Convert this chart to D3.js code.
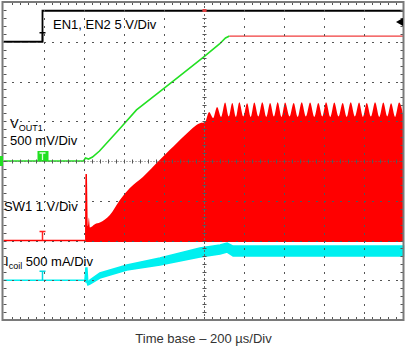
<!DOCTYPE html>
<html>
<head>
<meta charset="utf-8">
<script src="https://cdn.jsdelivr.net/npm/d3@7"></script>
<style>
  body { margin: 0; background: #fff; }
  svg { display: block; font-family: "Liberation Sans", Arial, sans-serif; }
</style>
</head>
<body>
<svg id="scope"></svg>
<script>
// Time axis in µs (200 µs/div, trigger at 0), vertical in screen divisions
const timeDomain = [-1000, 1000]
const divDomain = [-4, 4]

// EN1, EN2 - 5 V/div, ground 3 div above centre
const enPerDiv = 5, enOffset = 3
const enTime = [-1000, -805, -805, 1000]
const enVolt = [0, 0, 3.9, 3.9]

// VOUT1 - 500 mV/div, ground on centre line
const voutPerDiv = 0.5, voutOffset = 0
const voutTime = [-1000, -600, -590, -575, -555, -520, -470, -420, -335, -220, -120, 0, 80, 110, 130, 1000]
const voutVolt = [0, 0, 0.038, 0.025, 0.05, 0.126, 0.264, 0.403, 0.642, 0.868, 1.069, 1.308, 1.472, 1.547, 1.572, 1.572]
const voutSettled = 130

// SW1 - 1 V/div, ground 2 div below centre; upper envelope of the switching node
const swPerDiv = 1, swOffset = -2
const swTime = [-1000, -592, -590, -583, -578, -573, -568, -543, -518, -468, -418, -368, -303, -218, -168, -93, -18,
  8, 28, 48, 68, 88, 108, 126, 144, 162, 179, 199, 218, 236, 254, 274, 294, 314, 333, 352, 371, 390, 408, 430,
  451, 471, 491, 512, 533, 554, 574, 594, 613, 634, 654, 675, 696, 716, 736, 757, 778, 797, 816, 837, 858, 879,
  899, 919, 938, 958, 978, 1000]
const swVolt = [0, 0, 1.67, 1.67, 0.36, 0.58, 0.33, 0.41, 0.45, 0.64, 1.02, 1.32, 1.6, 2.03, 2.28, 2.65, 2.95,
  2.98, 3.23, 3.08, 3.36, 3.11, 3.47, 3.12, 3.46, 3.11, 3.48, 3.12, 3.45, 3.11, 3.47, 3.12, 3.48, 3.11, 3.46, 3.12,
  3.48, 3.11, 3.47, 3.12, 3.46, 3.11, 3.48, 3.12, 3.47, 3.11, 3.46, 3.12, 3.48, 3.11, 3.47, 3.12, 3.46, 3.11,
  3.48, 3.12, 3.47, 3.11, 3.46, 3.12, 3.48, 3.11, 3.47, 3.12, 3.45, 3.11, 3.47, 3.12]
const swFloor = -0.04
const swStart = -592

// Icoil - 500 mA/div, ground 3 div below centre; ripple band in mA
const ilPerDiv = 500, ilOffset = -3
const ilTime = [-1000, -593, -588, -583, -578, -568, -518, -383, -218, -18, 83, 118, 148, 1000]
const ilTop = [0, 0, 154, 154, -35, 3, 91, 192, 279, 405, 443, 468, 430, 430]
const ilBottom = [0, 0, -22, -22, -60, -47, 28, 129, 191, 292, 330, 355, 304, 304]

const W = 409, H = 352
const svg = d3.select("#scope").attr("width", W).attr("height", H)
svg.append("rect").attr("width", W).attr("height", H).attr("fill", "#fff")

let x = d3.scaleLinear().domain(timeDomain).range([3.5, 403.5])
let yDiv = d3.scaleLinear().domain(divDomain).range([320, 2])
let plotLeft = x.range()[0], plotRight = x.range()[1]
let plotTop = yDiv.range()[1], plotBottom = yDiv.range()[0]
let stepX = (plotRight - plotLeft) / 50, stepY = (plotBottom - plotTop) / 40   // 1/5 division

// channel value -> pixel
function yOf(perDiv, offset) {
    return v => yDiv(offset + v / perDiv)
}
let yEn = yOf(enPerDiv, enOffset)
let yVout = yOf(voutPerDiv, voutOffset)
let ySw = yOf(swPerDiv, swOffset)
let yIl = yOf(ilPerDiv, ilOffset)

let traces = svg.append("g")

// SW1 switching envelope (filled) plus its baseline
let swIdx = d3.range(swTime.length)
traces.append("path")
    .datum(swIdx.filter(i => swTime[i] >= swStart))
    .attr("fill", "#ff0000")
    .attr("d", d3.area()
        .x(i => x(swTime[i]))
        .y0(ySw(swFloor))
        .y1(i => ySw(swVolt[i]))
        .curve(d3.curveMonotoneX))
traces.append("path")
    .datum(swIdx.filter(i => swTime[i] <= swStart))
    .attr("fill", "none")
    .attr("stroke", "#ff0000")
    .attr("stroke-width", 1.5)
    .attr("d", d3.line().x(i => x(swTime[i])).y(i => ySw(swVolt[i])))

// Icoil ripple band
let ilIdx = d3.range(ilTime.length)
traces.append("path")
    .datum(ilIdx)
    .attr("fill", "#00f0f0")
    .attr("stroke", "#00f0f0")
    .attr("stroke-width", 1.5)
    .attr("d", d3.area()
        .x(i => x(ilTime[i]))
        .y0(i => yIl(ilBottom[i]))
        .y1(i => yIl(ilTop[i])))

// VOUT1 ramp, the settled part shows in red
let voutIdx = d3.range(voutTime.length)
let voutLine = d3.line().x(i => x(voutTime[i])).y(i => yVout(voutVolt[i]))
traces.append("path")
    .datum(voutIdx.filter(i => voutTime[i] <= voutSettled))
    .attr("fill", "none")
    .attr("stroke", "#22e022")
    .attr("stroke-width", 1.6)
    .attr("d", voutLine)
traces.append("path")
    .datum(voutIdx.filter(i => voutTime[i] >= voutSettled))
    .attr("fill", "none")
    .attr("stroke", "#f03c3c")
    .attr("stroke-width", 1.3)
    .attr("d", voutLine)

// EN1, EN2 step
let enIdx = d3.range(enTime.length)
traces.append("path")
    .datum(enIdx)
    .attr("fill", "none")
    .attr("stroke", "#000")
    .attr("stroke-width", 1.8)
    .attr("d", d3.line().x(i => x(enTime[i])).y(i => yEn(enVolt[i])))

// Graticule: dots every 1/5 division along each grid line
let gridX = x.ticks(10).filter(t => t != 0 && t != timeDomain[0] && t != timeDomain[1]).map(t => Math.round(x(t)))
let gridY = yDiv.ticks(8).filter(d => d != 0 && d != divDomain[0] && d != divDomain[1]).map(d => Math.round(yDiv(d)))
let alongX = d3.range(plotLeft + stepX, plotRight - 1, stepX).map(Math.round)
let alongY = d3.range(plotTop + stepY, plotBottom - 1, stepY).map(Math.round)
let dots = []
gridX.forEach(gx => alongY.forEach(py => dots.push([gx, py, 1, 2])))
gridY.forEach(gy => alongX.forEach(px => dots.push([px, gy, 2, 1])))
svg.append("g").selectAll("rect").data(dots).join("rect")
    .attr("x", d => d[0]).attr("y", d => d[1])
    .attr("width", d => d[2]).attr("height", d => d[3])
    .attr("fill", "#555")

// dashed centre lines with minor ticks
let cx = Math.round(x(0)) + 0.5, cy = Math.round(yDiv(0)) + 0.5
let centre = svg.append("g").attr("stroke", "#666").attr("stroke-width", 1)
centre.append("line").attr("x1", cx).attr("x2", cx).attr("y1", plotTop).attr("y2", plotBottom)
    .attr("stroke-dasharray", "2,2")
centre.append("line").attr("y1", cy).attr("y2", cy).attr("x1", plotLeft).attr("x2", plotRight)
    .attr("stroke-dasharray", "1,2")

// minor ticks every 1/5 division on centre lines and border
let ticks = svg.append("g").attr("stroke", "#555").attr("stroke-width", 1)
alongX.forEach(px => {
    let xx = px + 0.5
    ticks.append("line").attr("x1", xx).attr("x2", xx).attr("y1", cy - 2).attr("y2", cy + 2)
    ticks.append("line").attr("x1", xx).attr("x2", xx).attr("y1", plotTop).attr("y2", plotTop + 3)
    ticks.append("line").attr("x1", xx).attr("x2", xx).attr("y1", plotBottom - 3).attr("y2", plotBottom)
})
alongY.forEach(py => {
    let yy = py + 0.5
    ticks.append("line").attr("y1", yy).attr("y2", yy).attr("x1", cx - 2).attr("x2", cx + 2)
    ticks.append("line").attr("y1", yy).attr("y2", yy).attr("x1", plotRight - 3).attr("x2", plotRight)
    ticks.append("line").attr("y1", yy).attr("y2", yy).attr("x1", plotLeft).attr("x2", plotLeft + 3)
})

svg.append("rect")
    .attr("x", plotLeft - 1).attr("y", plotTop)
    .attr("width", plotRight - plotLeft + 1).attr("height", plotBottom - plotTop)
    .attr("fill", "none").attr("stroke", "#7a7a7a").attr("stroke-width", 2)

// Channel ground markers
function groundMark(yy, color) {
    let xm = x(-805)
    svg.append("path")
        .attr("d", "M" + (xm - 3) + "," + (yy - 9) + "H" + (xm + 3) + "M" + xm + "," + (yy - 9) + "V" + yy)
        .attr("fill", "none").attr("stroke", color).attr("stroke-width", 1.5)
}
groundMark(yEn(0), "#000")
groundMark(ySw(0), "#ff2020")
groundMark(yIl(0), "#00d8e0")
svg.append("rect").attr("x", x(-805) - 5).attr("y", yVout(0) - 10).attr("width", 11).attr("height", 10)
    .attr("fill", "#22e022")
svg.append("path")
    .attr("d", "M" + (x(-805) - 3) + "," + (yVout(0) - 8) + "H" + (x(-805) + 3) + "M" + x(-805) + "," + (yVout(0) - 8) + "V" + (yVout(0) - 1))
    .attr("fill", "none").attr("stroke", "#dfffdf").attr("stroke-width", 1.3)
svg.append("rect").attr("x", 0).attr("y", yVout(0) - 5).attr("width", 3).attr("height", 10).attr("fill", "#22e022")

// trigger level and position markers
svg.append("path").attr("d", "M403,18 L396,22 L403,26 Z").attr("fill", "#000")
svg.append("rect").attr("x", cx - 2).attr("y", 9).attr("width", 4).attr("height", 3).attr("fill", "#e04040")

// Labels
let labels = svg.append("g").attr("font-size", 13).attr("fill", "#000")
labels.append("text").attr("x", 53).attr("y", 29).text("EN1, EN2 5 V/Div")
let vLab = labels.append("text").attr("x", 10).attr("y", 128)
vLab.append("tspan").text("V")
vLab.append("tspan").attr("font-size", 9).attr("dy", 3).text("OUT1")
labels.append("text").attr("x", 10).attr("y", 145).text("500 mV/Div")
labels.append("text").attr("x", 4).attr("y", 211).text("SW1 1 V/Div")
let iLab = labels.append("text").attr("x", 5).attr("y", 266)
iLab.append("tspan").text("I")
iLab.append("tspan").attr("font-size", 9).attr("dy", 3).text("coil")
iLab.append("tspan").attr("dy", -3).text(" 500 mA/Div")

svg.append("text").attr("x", x(0)).attr("y", 343).attr("text-anchor", "middle")
    .attr("font-size", 13).attr("fill", "#333").text("Time base – 200 µs/Div")
</script>
</body>
</html>
